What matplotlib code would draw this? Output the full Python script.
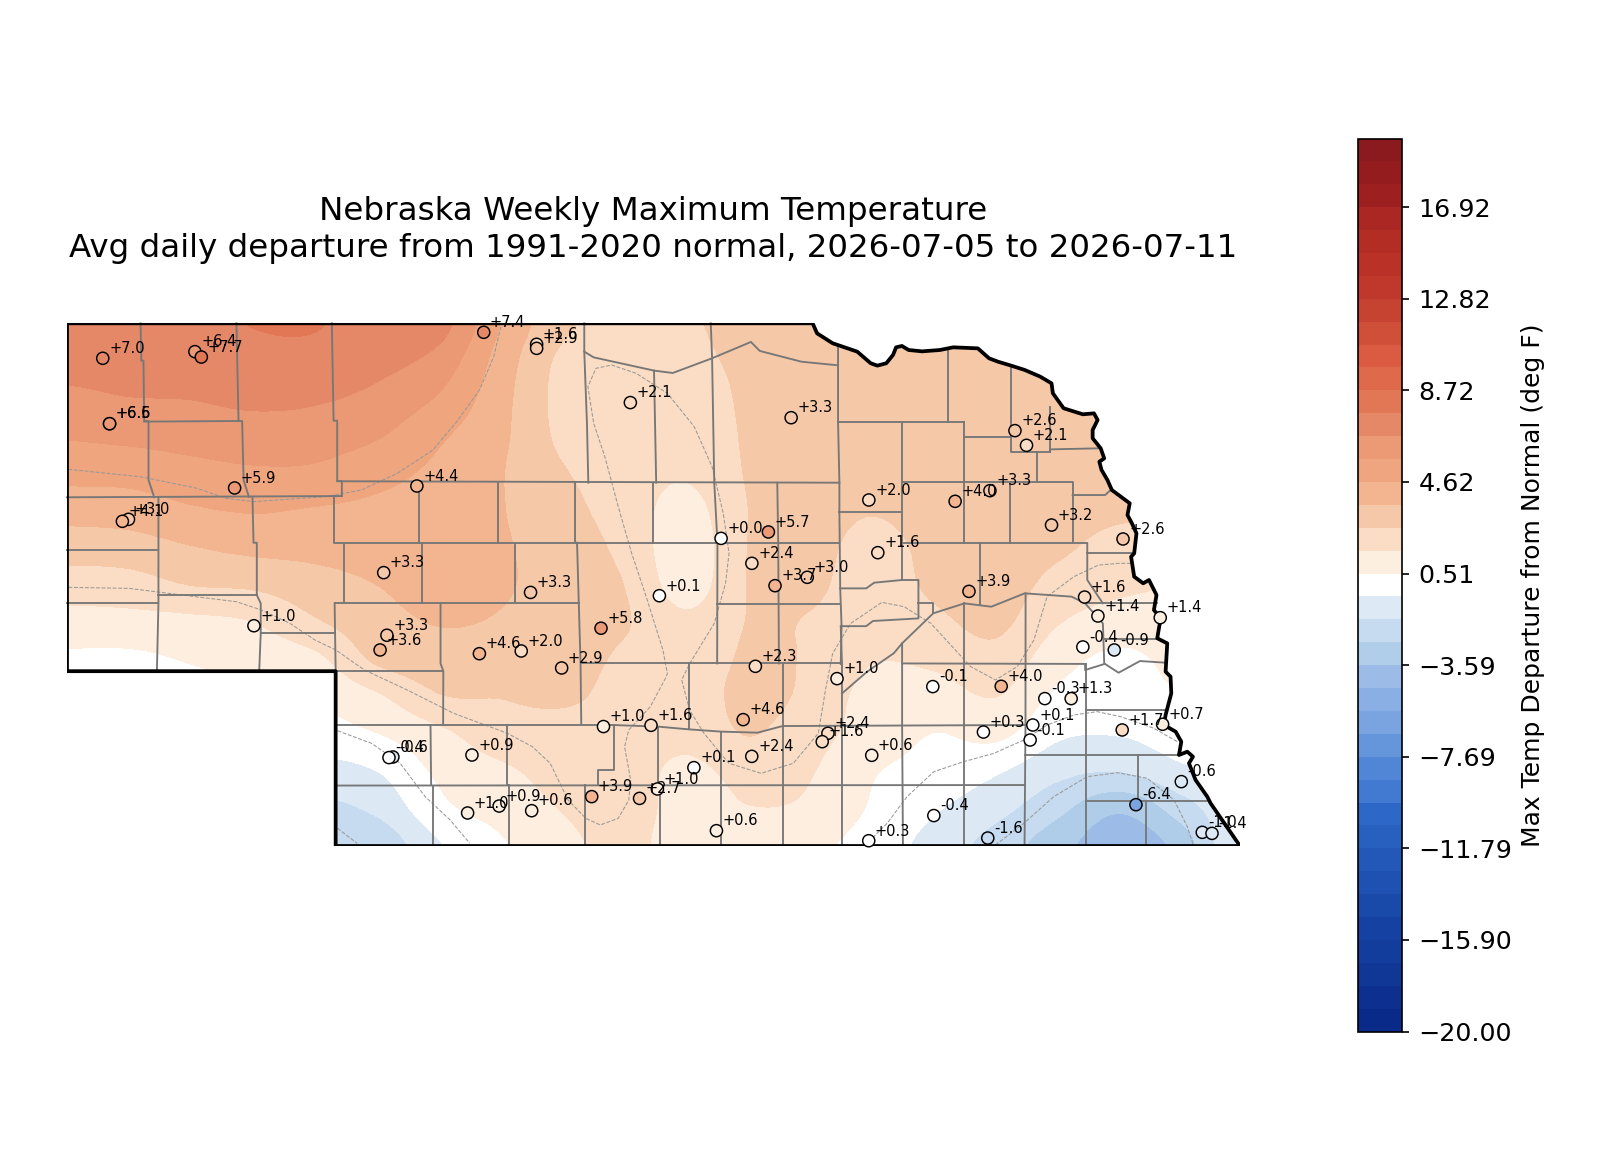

import numpy as np
import matplotlib
matplotlib.use("Agg")
import matplotlib.pyplot as plt
from matplotlib.colors import BoundaryNorm, LinearSegmentedColormap
from matplotlib.patches import Polygon
from matplotlib.cm import ScalarMappable
from matplotlib.ticker import FuncFormatter

# All map positions are in digitised map units (x grows east, y grows south)

station_x = [99.6, 188.8, 195, 106.2, 106.2, 468.3, 519.5, 519.5, 610.2, 765.8, 982.4, 993.6, 227.2, 403.6, 841,
             924.5, 958.2, 1017.8, 1087, 124.5, 118.6, 743.8, 698, 849.7, 727.8, 750.2, 781.4, 371.5, 513.6, 638.3,
             937.9, 1049.8, 1062.7, 1123, 245.9, 374.6, 368, 581.8, 464.1, 504.6, 543.7, 1048.1, 1078.5, 731.2,
             810.2, 902.9, 969.1, 1011.3, 1036.8, 584.2, 630.2, 719.4, 951.9, 999.7, 997.1, 1086.2, 1125.3, 801.4,
             795.9, 843.8, 727.7, 456.9, 380.4, 376.6, 671.7, 636.4, 619.1, 572.8, 1143.4, 1099.5, 452.7, 483.2,
             514.7, 693.5, 903.9, 956.1, 840.9, 1163.7, 1173.1]
station_y = [346.2, 339.8, 345, 409.4, 409.4, 321.1, 332.7, 336.6, 389, 403.6, 416.1, 430.3, 471.5, 469.6, 483.1,
             484.4, 474.1, 507.3, 520.8, 501.8, 503.7, 514, 520.2, 534, 544.3, 565.9, 557.8, 553.3, 572.4, 575.6,
             571.4, 576.9, 595.2, 596.8, 604.6, 613.8, 628, 607, 631.6, 629, 645.4, 625.1, 628, 643.8,
             655.7, 663.4, 663.1, 675, 675, 702, 700.8, 695.3, 707.3, 700.5, 715, 705.3, 699.8, 708.5,
             716.6, 729.8, 730.8, 729.5, 731.4, 732, 741.7, 762.3, 771.4, 769.7, 755.2, 777.5, 785.5, 778.8,
             783.3, 802.6, 788, 809.7, 812.3, 804.2, 805.2]
station_val = [7.0, 6.4, 7.7, 6.6, 6.5, 7.4, 1.6, 2.9, 2.1, 3.3, 2.6, 2.1, 5.9, 4.4, 2.0, 4.0, 3.3, 3.2, 2.6,
               3.0, 4.1, 5.7, 0.0, 1.6, 2.4, 3.7, 3.0, 3.3, 3.3, 0.1, 3.9, 1.6, 1.4, 1.4, 1.0, 3.3, 3.6, 5.8,
               4.6, 2.0, 2.9, -0.4, -0.9, 2.3, 1.0, -0.1, 4.0, -0.3, 1.3, 1.0, 1.6, 4.6, 0.3, 0.1, -0.1, 1.7,
               0.7, 2.4, 1.6, 0.6, 2.4, 0.9, -0.6, -0.4, 0.1, 1.0, 2.7, 3.9, -0.6, -6.4, 1.0, 0.9, 0.6, 0.6, -0.4,
               -1.6, 0.3, -1.0, -1.4]

# departure field read off the filled bands, one row per 36 map units south of 313,
# one column per 60 map units east of 65
grid_val = [
    [7.4, 7.4, 7.45, 7.72, 7.75, 7.3, 7.1, 4.6, 2.8, 2.2, 2.45, 2.9, 3.1, 3.1, 3.2, 3.2, 3.1, 3.0, 2.9, 2.8],
    [7.05, 7.15, 7.2, 7.4, 7.4, 7.0, 6.3, 4.2, 2.35, 2.1, 2.3, 2.8, 3.1, 3.15, 3.2, 3.2, 3.1, 3.0, 2.9, 2.8],
    [6.45, 6.65, 6.7, 6.9, 6.8, 6.4, 5.55, 3.95, 2.25, 2.0, 2.0, 2.75, 3.1, 3.2, 3.2, 3.2, 3.1, 3.0, 2.9, 2.8],
    [5.75, 5.9, 6.05, 6.2, 6.15, 5.75, 4.8, 3.8, 2.35, 2.0, 1.85, 2.7, 3.1, 3.2, 3.2, 3.2, 3.1, 3.0, 2.9, 2.8],
    [4.95, 5.0, 5.3, 5.5, 5.45, 4.95, 4.4, 3.65, 2.65, 2.05, 1.65, 2.65, 3.05, 3.15, 3.2, 3.2, 3.1, 2.95, 2.85, 2.8],
    [4.0, 4.1, 4.5, 4.7, 4.55, 4.4, 4.25, 3.65, 2.9, 2.1, 1.2, 2.58, 3.0, 2.65, 3.1, 3.2, 3.0, 2.75, 2.7, 2.6],
    [3.05, 3.15, 3.55, 3.85, 3.9, 4.0, 4.1, 3.7, 3.1, 2.3, 0.95, 2.6, 2.9, 2.2, 2.9, 3.25, 2.75, 2.2, 2.2, 2.2],
    [2.05, 2.15, 2.6, 2.75, 3.2, 3.6, 4.0, 3.7, 3.2, 2.55, 1.1, 2.6, 2.75, 2.1, 2.75, 3.1, 2.2, 1.75, 1.55, 1.6],
    [1.15, 1.2, 1.3, 1.55, 2.45, 3.2, 3.65, 3.5, 3.1, 2.65, 1.75, 2.6, 2.5, 1.95, 2.35, 2.8, 1.6, 1.1, 1.3, 1.4],
    [0.3, 0.3, 0.6, 0.9, 1.3, 2.75, 3.15, 3.1, 3.0, 2.4, 2.0, 2.7, 2.45, 1.6, 1.75, 2.2, 0.9, 0.3, 0.85, 0.9],
    [-0.2, -0.1, 0.1, 0.4, 0.6, 1.4, 2.5, 2.6, 2.75, 2.2, 2.0, 2.85, 2.3, 1.15, 1.1, 1.55, 0.3, 0.1, 0.45, 0.3],
    [0.0, 0.0, 0.0, 0.1, 0.1, 0.5, 1.3, 2.1, 2.1, 2.1, 1.85, 2.6, 1.9, 1.1, 0.5, 0.75, -0.35, -0.45, 0.0, 0.0],
    [-0.5, -0.5, -0.5, -0.6, -0.9, -0.5, 0.7, 1.35, 1.9, 2.0, 1.3, 1.9, 1.6, 0.6, 0.15, -0.4, -1.25, -1.5, -0.7, -0.3],
    [-1.0, -1.0, -1.2, -1.5, -1.8, -1.3, 0.25, 0.9, 1.6, 2.1, 1.05, 1.5, 1.35, 0.4, -0.4, -1.2, -2.3, -3.4, -2.0, -0.6],
    [-1.5, -1.5, -1.8, -2.2, -2.5, -2.3, -0.6, 0.4, 1.2, 1.9, 0.85, 0.95, 0.75, 0.05, -0.9, -2.0, -3.2, -4.3, -3.1, -0.2],
]

state_outline = [
    (65, 312.4), (786.6, 312.4), (790.9, 322.1), (806, 331.7), (829.8, 339.8), (842.8, 351), (849.2, 353.3),
    (857.9, 351), (864.4, 343), (867.4, 335.6), (873, 334.3), (879.5, 338.2), (892.5, 339.5), (909.8, 338.2),
    (922.7, 335.6), (946.5, 336.6), (957.3, 346.2), (966, 349.5), (976.8, 352.7), (991.9, 357.5), (1007, 364),
    (1017.8, 370.4), (1019.1, 380), (1029.5, 394.5), (1048.1, 400.3), (1058.9, 399.4), (1062.4, 405.8),
    (1057.6, 415.5), (1057.6, 423.5), (1065.4, 433.2), (1068.8, 442.9), (1064.1, 446.1), (1066.2, 454.1),
    (1071.9, 463.8), (1076.2, 473.5), (1093.5, 486.3), (1091.3, 497.6), (1095.6, 505.7), (1100, 515.3),
    (1097.8, 534.7), (1094.8, 537.9), (1097.8, 557.2), (1106.5, 563.6), (1112.1, 560.4), (1119.4, 574.9),
    (1116.9, 589.4), (1123.4, 597.4), (1120.1, 616.7), (1129.8, 621.6), (1128.2, 649), (1133, 653.8),
    (1133.7, 669.9), (1128.2, 690.8), (1126.6, 700.5), (1137.9, 706.9), (1143.4, 716.6), (1141.1, 729.5),
    (1149.2, 726.3), (1154.7, 731.1), (1150.8, 737.5), (1157.2, 753.6), (1168.5, 769.7), (1171.8, 776.2),
    (1200.2, 817.4), (325, 817.4), (325, 648.5), (65, 648.5),
]

county_lines = [
    [(136.2, 312.4), (136.9, 348.5), (139, 348.5), (139.7, 406.8), (143.9, 406.8), (143.9, 463.8), (149.4, 480.5)],
    [(139.7, 407.4), (231, 406.8)],
    [(229, 312.4), (229.6, 341.4), (231, 406.8), (234.5, 406.8), (235.9, 463.8), (241, 480)],
    [(321.3, 312.4), (323, 406.5), (326.5, 406.5), (326.5, 464.8), (331, 464.8), (331, 479.3)],
    [(65, 480.5), (331, 479.3)],
    [(326.5, 465), (812.5, 466.4)],
    [(323, 479.3), (323, 524.4), (812.5, 524.4)],
    [(406, 466.4), (406, 524.4)],
    [(481.8, 466.4), (481.8, 524.4)],
    [(556.5, 466.4), (556.5, 524.4)],
    [(632.2, 466.4), (632.2, 524.4)],
    [(691.4, 466.4), (694.5, 524.4), (694.2, 641)],
    [(752.4, 466.4), (753.3, 524.4), (754, 641)],
    [(65, 531.4), (153.5, 531.4)],
    [(65, 583), (153.5, 583)],
    [(153.5, 480.5), (153.5, 583), (152, 648.5)],
    [(153.5, 575), (249, 575)],
    [(244.5, 480.5), (245.5, 524.4), (248.7, 524.4), (248.7, 575), (252.5, 583), (252.5, 612), (251, 648.5)],
    [(252.5, 612), (324, 612)],
    [(333.4, 524.4), (333.4, 583)],
    [(408.5, 524.4), (408.5, 583)],
    [(498.7, 524.4), (498.7, 583)],
    [(558.6, 524.4), (560.3, 583), (562, 641), (562.7, 700)],
    [(324, 583), (560.3, 583)],
    [(324, 583), (325, 648.5)],
    [(426.5, 583), (426.5, 641), (429.2, 648.5), (429, 700)],
    [(325, 648.5), (429.2, 648.5)],
    [(562, 641), (814.5, 641)],
    [(666.5, 641), (666.5, 704.7)],
    [(757.5, 641.5), (757.5, 816)],
    [(694.2, 583.6), (813, 583.6)],
    [(326.8, 700.5), (593.2, 700.5), (637.4, 702.1), (666.8, 704.7), (698, 706.9), (733.3, 707.9), (757.5, 701.5),
     (992.6, 700.5)],
    [(416.8, 700.5), (417.4, 758.5)],
    [(490.4, 700.5), (490.4, 758.5)],
    [(593.9, 700.5), (593.9, 744), (579.3, 744), (579.3, 758.5)],
    [(637.4, 702), (637.4, 758.5)],
    [(698, 707), (698, 816)],
    [(326.1, 759), (991.7, 758.5)],
    [(419.2, 759), (419.2, 816)],
    [(492.9, 758.5), (492.9, 816)],
    [(566.2, 758.5), (566.2, 816)],
    [(639.2, 758.5), (639.2, 816)],
    [(813.8, 605), (815, 641), (815, 816)],
    [(873.2, 621.6), (873.2, 700.5), (874, 816)],
    [(873.2, 641), (1050.7, 641.5)],
    [(932.9, 583), (932.9, 816)],
    [(992.7, 573.3), (992.6, 700.5), (991.7, 816)],
    [(1050.7, 641.5), (1050.7, 816)],
    [(1050.7, 686), (1128, 686)],
    [(991.7, 729.5), (1141, 729.5)],
    [(1101.7, 729.5), (1101.7, 773.6)],
    [(1050.7, 773.6), (1168.5, 773.6)],
    [(1109.2, 773.6), (1109.2, 816)],
    [(815, 670), (839.3, 649), (865.1, 631.2), (873.2, 621.6), (903.3, 592.6), (933.5, 583), (959.5, 586.2),
     (991.9, 573.3), (1037.3, 576.5), (1050.3, 583), (1067.5, 602.3), (1068.8, 641), (1082.7, 650), (1103.4, 638.7),
     (1128, 640.3)],
    [(1050.3, 641.6), (1050.3, 647.4), (1068.8, 641.6)],
    [(1050.3, 583), (1119.4, 583)],
    [(1068.8, 617.4), (1119.4, 617.4)],
    [(1052.4, 534.7), (1097.8, 534.7)],
    [(1052.4, 525), (1052.4, 560.4), (1067.5, 583)],
    [(873, 525), (1052.4, 525)],
    [(811.2, 333.4), (811.2, 407.4), (812.5, 466.4), (812.5, 495), (813.3, 568.5), (814.6, 605), (813.8, 641.6)],
    [(811.2, 407.4), (933.5, 407.4)],
    [(917.5, 338.2), (917.5, 407.4)],
    [(873, 407.4), (873, 560.4)],
    [(933.5, 407.4), (933.5, 525)],
    [(933.5, 421.9), (979, 421.9)],
    [(979, 356), (979, 436.4), (1016.5, 436.4)],
    [(1016.5, 393), (1016.5, 436.4)],
    [(1016.5, 434.2), (1063, 433.2)],
    [(1003.6, 436.4), (1003.6, 465.4)],
    [(873, 465.7), (1038.2, 465.7), (1038.2, 525)],
    [(1038.2, 478.3), (1069.7, 478.3), (1075, 473.5)],
    [(978, 465.7), (978, 525)],
    [(948.6, 525), (948.6, 584.6)],
    [(812.5, 495), (873, 495)],
    [(813.3, 568.5), (838.4, 568.5), (846.2, 563), (873, 560.4), (889, 560.4), (889, 597.5), (845, 600),
     (838.4, 605), (814.6, 605)],
    [(889, 583), (903.3, 583), (903.3, 592.6)],
    [(565.6, 312.4), (565.6, 339.8), (574.7, 345.3), (633.1, 358.1), (651.2, 360.4), (689.3, 346.2), (726.9, 330.4),
     (735.5, 339.1), (775.8, 349.5), (811.2, 353)],
    [(565.6, 339.8), (568.2, 409), (569.5, 466.4)],
    [(633.1, 358.1), (635.2, 466.4)],
    [(688, 312.4), (689.3, 346.2), (691.4, 466.4)],
]

# thin dashed isolines
dashed_lines = [
    [(484.9, 315.6), (478, 344.6), (464.2, 376.8), (443.4, 405.8), (419.2, 434.8), (384.6, 457.4), (350, 473.5),
     (315.4, 479.9), (246.2, 484.7), (218.6, 481.5), (190.9, 471.8), (159.8, 465.4), (135.6, 460.6), (66.4, 453.5)],
    [(66.4, 567.5), (125.2, 568.5), (177, 575), (229, 581.4), (253.2, 589.4), (280.8, 602.3), (305, 618.4),
     (325.1, 628), (352.8, 647.3), (394.3, 666.7), (439.2, 689.2), (491.1, 708.5), (515.3, 721.4), (532.6, 737.5),
     (549.9, 773), (567.2, 790.7), (581, 797.1), (598.4, 790.7), (608.7, 773), (610.5, 753.6), (604.6, 721.4),
     (608.7, 705.3), (629.5, 682.8), (645, 653.8), (646, 650.6), (641.7, 628), (626.6, 579.8), (611.5, 534.7),
     (598.5, 489.6), (585.5, 441.3), (574.7, 409), (569.1, 373.6), (576.9, 355.9), (592, 352.7), (615.8, 360.7),
     (646, 380), (672, 412.3), (689.3, 450.9), (700.1, 496), (705.7, 534.7), (702.3, 563.6), (691.4, 602.3),
     (667.7, 641), (659.9, 657), (667.5, 686), (681.4, 708.5), (705.6, 737.5), (736.7, 747.2), (767.9, 737.5),
     (792.1, 708.5), (799, 666.7), (806, 631.3), (823.3, 602.4), (853.6, 582), (875.2, 586.2), (901.1, 602.4),
     (939.4, 644), (963.6, 657), (984.6, 644), (1000.7, 618.4), (1013.5, 576.5), (1039.4, 557.2), (1063.2, 546),
     (1082.7, 544.3), (1095.6, 544.3)],
    [(326.8, 706), (359.7, 718.2), (387.4, 737.5), (411.6, 769.7), (435.8, 792.3), (454.8, 814.8)],
    [(326.8, 800.3), (345.8, 814.8)],
    [(840.9, 813.2), (858.7, 795.5), (878, 769.7), (903.9, 745.6), (932.9, 735.9), (962, 727.9), (991, 715),
     (1013.6, 700.5), (1039.4, 690.8), (1062, 687.6), (1084.6, 692.4), (1116.9, 703.7), (1139.5, 716.6)],
    [(963.6, 816.4), (991, 795.5), (1020, 769.7), (1052.3, 750.4), (1081.4, 746.6), (1110.5, 752), (1136.3, 773),
     (1149.2, 798.7), (1155, 816.4)],
]

levels = np.linspace(-20, 20, 40)
cmap = LinearSegmentedColormap.from_list("departure", [
    (0.0, "#0a2a8a"), (0.125, "#1848a8"), (0.244, "#2f6acb"), (0.27, "#4a7fd4"), (0.295, "#5589d8"),
    (0.32, "#6b99dc"), (0.346, "#7ea6e0"), (0.372, "#8fb2e5"), (0.3975, "#a0bfe8"), (0.423, "#b2cfea"),
    (0.449, "#c8dcf0"), (0.474, "#e0ecf6"), (0.49, "#ffffff"), (0.51, "#ffffff"), (0.526, "#fdeedf"),
    (0.551, "#fadcc2"), (0.577, "#f5c8a8"), (0.603, "#f3b691"), (0.628, "#f0a780"), (0.654, "#ec9a75"),
    (0.68, "#e58a6a"), (0.705, "#e27a58"), (0.75, "#de6044"), (0.8, "#cc4a35"), (0.85, "#bd3328"),
    (0.9, "#b22c24"), (0.95, "#9c1e20"), (1.0, "#8b1a1e"),
])
norm = BoundaryNorm(levels, cmap.N)

W, H = 1620, 1170
fig = plt.figure(figsize=(W / 150, H / 150), dpi=150)
ax = fig.add_axes([67 / W, 1 - 846 / H, (1240 - 67) / W, (846 - 323.3) / H])

# catrom resampling in data space keeps the bands sharp and their edges round
field = ax.imshow(np.array(grid_val), cmap=cmap, norm=norm, extent=(35, 1235, 835.5, 295), origin="upper",
                  aspect="auto", interpolation="catrom", interpolation_stage="data")
ax.set_xlim(65, 1200.2)
ax.set_ylim(817.4, 312.4)
ax.axis("off")

state = Polygon(state_outline, closed=True, facecolor="none", edgecolor="black", linewidth=1.8, zorder=4,
                joinstyle="round")
ax.add_patch(state)
field.set_clip_path(state)

for line in county_lines:
    xs, ys = zip(*line)
    ax.plot(xs, ys, color="#777777", linewidth=0.9, zorder=3, clip_on=False)
for line in dashed_lines:
    xs, ys = zip(*line)
    ax.plot(xs, ys, color="#999999", linewidth=0.5, linestyle="--", zorder=2)

ax.scatter(station_x, station_y, c=station_val, cmap=cmap, norm=norm, s=34, edgecolors="black", linewidths=0.7,
           zorder=5, clip_on=False)
for x, y, v in zip(station_x, station_y, station_val):
    ax.annotate(f"{v:+.1f}", (x, y), xytext=(3, 2.5), textcoords="offset points", fontsize=7, zorder=6,
                annotation_clip=False)

ax.set_title("Nebraska Weekly Maximum Temperature\nAvg daily departure from 1991-2020 normal, 2026-07-05 to 2026-07-11",
             fontsize=15.6, pad=32, linespacing=1.25)

cax = fig.add_axes([1358 / W, 1 - 1031.5 / H, 44 / W, (1031.5 - 138.5) / H])
cb = fig.colorbar(ScalarMappable(norm=norm, cmap=cmap), cax=cax, ticks=levels[::4], spacing="proportional",
                  format=FuncFormatter(lambda v, _: f"{v:.2f}".replace("-", "\u2212")))
cb.ax.minorticks_off()
cb.ax.tick_params(labelsize=12.2, pad=4.5)
cb.set_label("Max Temp Departure from Normal (deg F)", fontsize=12)

fig.savefig("out.png", dpi=150)
